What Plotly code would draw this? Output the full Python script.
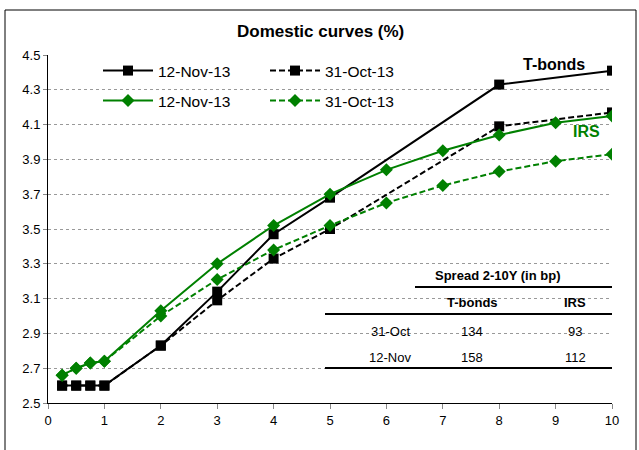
import plotly.graph_objects as go

# Maturities (years)
tb_tenor = [0.25, 0.5, 0.75, 1, 2, 3, 4, 5, 8, 10]
irs_tenor = [0.25, 0.5, 0.75, 1, 2, 3, 4, 5, 6, 7, 8, 9, 10]

# Yields (%)
tb_nov12 = [2.60, 2.60, 2.60, 2.60, 2.83, 3.14, 3.47, 3.68, 4.33, 4.41]
tb_oct31 = [2.60, 2.60, 2.60, 2.60, 2.83, 3.09, 3.33, 3.50, 4.09, 4.17]
irs_nov12 = [2.66, 2.70, 2.73, 2.74, 3.03, 3.30, 3.52, 3.70, 3.84, 3.95, 4.04, 4.11, 4.15]
irs_oct31 = [2.66, 2.70, 2.73, 2.74, 3.00, 3.21, 3.38, 3.52, 3.65, 3.75, 3.83, 3.89, 3.93]

# Spread table
spread_title = "Spread 2-10Y (in bp)"
spread_cols = ["T-bonds", "IRS"]
spread_rows = ["31-Oct", "12-Nov"]
spread_tb = [134, 158]
spread_irs = [93, 112]

BLACK = "#000000"
GREEN = "#008000"
FONT = "Liberation Sans, Arial, sans-serif"
DASH = "6px,3px"

fig = go.Figure()
fig.add_trace(go.Scatter(x=tb_tenor, y=tb_nov12, name="12-Nov-13", mode="lines+markers",
                         line=dict(color=BLACK, width=2),
                         marker=dict(symbol="square", size=10, color=BLACK), legend="legend"))
fig.add_trace(go.Scatter(x=tb_tenor, y=tb_oct31, name="31-Oct-13", mode="lines+markers",
                         line=dict(color=BLACK, width=2, dash=DASH),
                         marker=dict(symbol="square", size=10, color=BLACK), legend="legend"))
fig.add_trace(go.Scatter(x=irs_tenor, y=irs_nov12, name="12-Nov-13", mode="lines+markers",
                         line=dict(color=GREEN, width=2),
                         marker=dict(symbol="diamond", size=10, color=GREEN), legend="legend2"))
fig.add_trace(go.Scatter(x=irs_tenor, y=irs_oct31, name="31-Oct-13", mode="lines+markers",
                         line=dict(color=GREEN, width=2, dash=DASH),
                         marker=dict(symbol="diamond", size=10, color=GREEN), legend="legend2"))

W, H = 639, 450
L, R, T, B = 48, 27, 55, 47
pw, ph = W - L - R, H - T - B


def px(xp):
    return (xp - L) / pw


def py(yp):
    return 1 - (yp - T) / ph


shapes = [
    # outer frame
    dict(type="rect", xref="paper", yref="paper", x0=px(5), x1=px(636), y0=py(452), y1=py(10),
         line=dict(color=BLACK, width=1), fillcolor="rgba(0,0,0,0)", layer="above"),
    # table background
    dict(type="rect", xref="paper", yref="paper", x0=px(325), x1=px(613), y0=py(372), y1=py(244),
         line=dict(width=0), fillcolor="white", layer="between"),
    # table rules
    dict(type="line", xref="paper", yref="paper", x0=px(415), x1=px(612), y0=py(287), y1=py(287),
         line=dict(color=BLACK, width=2)),
    dict(type="line", xref="paper", yref="paper", x0=px(325), x1=px(612), y0=py(314), y1=py(314),
         line=dict(color=BLACK, width=2)),
    dict(type="line", xref="paper", yref="paper", x0=px(325), x1=px(612), y0=py(368), y1=py(368),
         line=dict(color=BLACK, width=2)),
]

annotations = [
    dict(text="<b>T-bonds</b>", x=px(554), y=py(64), font=dict(size=16, color=BLACK)),
    dict(text="<b>IRS</b>", x=px(586), y=py(131), font=dict(size=16, color=GREEN)),
    dict(text="<b>" + spread_title + "</b>", x=px(497), y=py(275), font=dict(size=13, color=BLACK)),
    dict(text="<b>" + spread_cols[0] + "</b>", x=px(472), y=py(302), font=dict(size=13, color=BLACK)),
    dict(text="<b>" + spread_cols[1] + "</b>", x=px(575), y=py(302), font=dict(size=13, color=BLACK)),
]
row_y = [331, 357]
for i, lab in enumerate(spread_rows):
    annotations.append(dict(text=lab, x=px(390), y=py(row_y[i]), font=dict(size=13, color=BLACK)))
    annotations.append(dict(text=str(spread_tb[i]), x=px(472), y=py(row_y[i]), font=dict(size=13, color=BLACK)))
    annotations.append(dict(text=str(spread_irs[i]), x=px(575), y=py(row_y[i]), font=dict(size=13, color=BLACK)))
for a in annotations:
    a.update(xref="paper", yref="paper", showarrow=False, xanchor="center", yanchor="middle")
    a["font"]["family"] = FONT

legend_common = dict(orientation="h", xanchor="left", yanchor="middle", bgcolor="rgba(0,0,0,0)",
                     font=dict(family=FONT, size=15.5, color=BLACK), itemwidth=50,
                     entrywidth=102, entrywidthmode="pixels", tracegroupgap=0)

fig.update_layout(
    width=W, height=H,
    margin=dict(l=L, r=R, t=T, b=B),
    paper_bgcolor="white", plot_bgcolor="white",
    font=dict(family=FONT, size=13, color=BLACK),
    title=dict(text="<b>Domestic curves (%)</b>", x=px(331), xanchor="center", y=1 - 31 / H,
               yanchor="middle", font=dict(family=FONT, size=17, color=BLACK)),
    showlegend=True,
    legend=dict(x=px(98), y=py(71), **legend_common),
    legend2=dict(x=px(98), y=py(101), **legend_common),
    xaxis=dict(range=[0, 10], tickmode="linear", tick0=0, dtick=1, showgrid=False,
               showline=True, linecolor=BLACK, linewidth=1, ticks="outside", ticklen=5,
               tickcolor="#888888", zeroline=False, tickfont=dict(size=13)),
    yaxis=dict(range=[2.5, 4.5], tickmode="linear", tick0=2.5, dtick=0.2, tickformat=".1f",
               showgrid=True, gridcolor="#999999", griddash="dot", gridwidth=1,
               showline=True, linecolor=BLACK, linewidth=1, ticks="outside", ticklen=4,
               tickcolor="#888888", zeroline=False, tickfont=dict(size=13)),
    shapes=shapes,
    annotations=annotations,
)

fig.write_html("out.html")
